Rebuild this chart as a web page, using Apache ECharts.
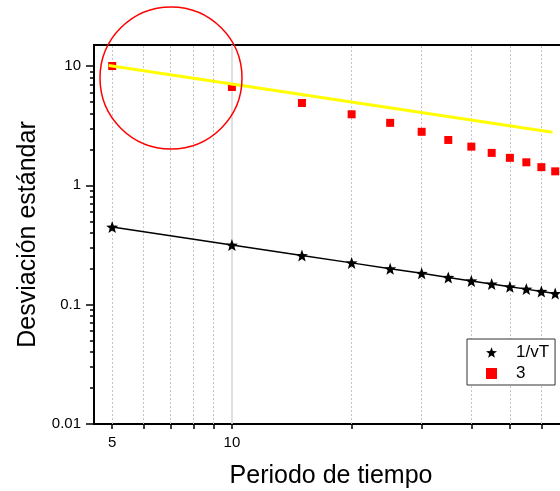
<!DOCTYPE html>
<html>
<head>
<meta charset="utf-8">
<script src="https://cdn.jsdelivr.net/npm/echarts@6/dist/echarts.min.js"></script>
<style>
html,body{margin:0;padding:0;background:#fff;}
#chart{width:560px;height:491px;}
</style>
</head>
<body>
<div id="chart"></div>
<script>
// Data
var periods = [5, 10, 15, 20, 25, 30, 35, 40, 45, 50, 55, 60, 65];
var invSqrtT = [0.447, 0.316, 0.258, 0.224, 0.200, 0.183, 0.169, 0.158, 0.149, 0.141, 0.135, 0.129, 0.124];
var series3 = [10.0, 6.67, 4.90, 3.94, 3.34, 2.81, 2.40, 2.11, 1.87, 1.70, 1.56, 1.42, 1.31];
var yellowX = [4.9, 64];
var yellowY = [10.1, 2.78];
var xTickValues = [5, 6, 7, 8, 9, 10, 20, 30, 40, 50, 60];
var xLabelValues = [5, 10];
var xDashedGrid = [5, 6, 7, 8, 9, 20, 30, 40, 50, 60];
var xSolidGrid = [10];
var yMajorTicks = [0.01, 0.1, 1, 10];
var yMinorTicks = [0.02, 0.03, 0.04, 0.05, 0.06, 0.07, 0.08, 0.09,
                   0.2, 0.3, 0.4, 0.5, 0.6, 0.7, 0.8, 0.9,
                   2, 3, 4, 5, 6, 7, 8, 9];
var legendNames = ['1/vT', '3'];

var STAR = 'path://M100,0 L124.7,66 L195.1,69.1 L140,113 L158.8,180.9 L100,142 L41.2,180.9 L60,113 L4.9,69.1 L75.3,66 Z';
var FONT = '"Liberation Sans", Arial, sans-serif';

function pairs(xs, ys) { return xs.map(function (x, i) { return [x, ys[i]]; }); }

var gridMarks = xDashedGrid.map(function (v) {
  return { xAxis: v, lineStyle: { color: '#c4c4c4', width: 1, type: [2, 2] } };
}).concat(xSolidGrid.map(function (v) {
  return { xAxis: v, lineStyle: { color: '#d6d6d6', width: 1.5, type: 'solid' } };
}));

var chart = echarts.init(document.getElementById('chart'), null, { renderer: 'canvas' });
chart.setOption({
  animation: false,
  backgroundColor: '#fff',
  textStyle: { fontFamily: FONT },
  graphic: [{
    type: 'circle',
    z: 100,
    shape: { cx: 171, cy: 78, r: 71 },
    style: { fill: 'none', stroke: '#ff0000', lineWidth: 1.5 }
  }],
  grid: {
    left: 94, top: 45, width: 474, height: 379,
    outerBoundsMode: 'none',
    containLabel: false,
    show: true, borderColor: '#000', borderWidth: 2, backgroundColor: 'transparent'
  },
  legend: {
    orient: 'vertical',
    left: 467, top: 339,
    backgroundColor: '#fff',
    borderColor: '#333', borderWidth: 1, borderRadius: 0,
    padding: [5, 6, 3, 19],
    itemWidth: 11, itemHeight: 11, itemGap: 4,
    textStyle: { fontFamily: FONT, fontSize: 17, color: '#000', padding: [0, 0, 0, 14] },
    data: [
      { name: legendNames[0], icon: STAR },
      { name: legendNames[1], icon: 'rect' }
    ]
  },
  xAxis: {
    type: 'log', logBase: 10, min: 4.5, max: 70,
    name: 'Periodo de tiempo', nameLocation: 'middle', nameGap: 40,
    nameTextStyle: { fontFamily: FONT, fontSize: 25, color: '#000' },
    axisLine: { show: true, onZero: false, lineStyle: { color: '#000', width: 2 } },
    axisTick: { show: true, customValues: xTickValues, length: 5, lineStyle: { color: '#000', width: 1.5 } },
    axisLabel: { show: true, customValues: xLabelValues, fontFamily: FONT, fontSize: 15, color: '#000', margin: 11 },
    splitLine: { show: false },
    minorTick: { show: false }
  },
  yAxis: [{
    type: 'log', logBase: 10, min: 0.01, max: 15,
    name: 'Desviación estándar', nameLocation: 'middle', nameGap: 51,
    nameTextStyle: { fontFamily: FONT, fontSize: 25, color: '#000' },
    axisLine: { show: true, onZero: false, lineStyle: { color: '#000', width: 2 } },
    axisTick: { show: true, customValues: yMajorTicks, length: 8, lineStyle: { color: '#000', width: 1.5 } },
    axisLabel: { show: true, customValues: yMajorTicks, fontFamily: FONT, fontSize: 15, color: '#000', margin: 13,
      formatter: function (v) { return String(+v.toPrecision(3)); } },
    splitLine: { show: false }
  }, {
    type: 'log', logBase: 10, min: 0.01, max: 15, position: 'left',
    axisLine: { show: false },
    axisTick: { show: true, customValues: yMinorTicks, length: 4, lineStyle: { color: '#000', width: 1.5 } },
    axisLabel: { show: false },
    splitLine: { show: false }
  }],
  series: [{
    name: 'grid',
    type: 'line',
    data: [],
    z: 1,
    silent: true,
    markLine: { z: 1, silent: true, symbol: 'none', label: { show: false }, animation: false, data: gridMarks }
  }, {
    name: legendNames[1],
    type: 'scatter',
    symbol: 'rect', symbolSize: 8,
    itemStyle: { color: '#ff0000', opacity: 1 },
    z: 3,
    data: pairs(periods, series3)
  }, {
    name: 'fit3',
    type: 'line',
    symbol: 'none',
    lineStyle: { color: '#ffff00', width: 3 },
    z: 4,
    data: pairs(yellowX, yellowY)
  }, {
    name: legendNames[0],
    type: 'line',
    symbol: STAR, symbolSize: 12,
    showSymbol: true,
    itemStyle: { color: '#000' },
    lineStyle: { color: '#000', width: 1.5 },
    z: 5,
    data: pairs(periods, invSqrtT)
  }]
});
</script>
</body>
</html>
